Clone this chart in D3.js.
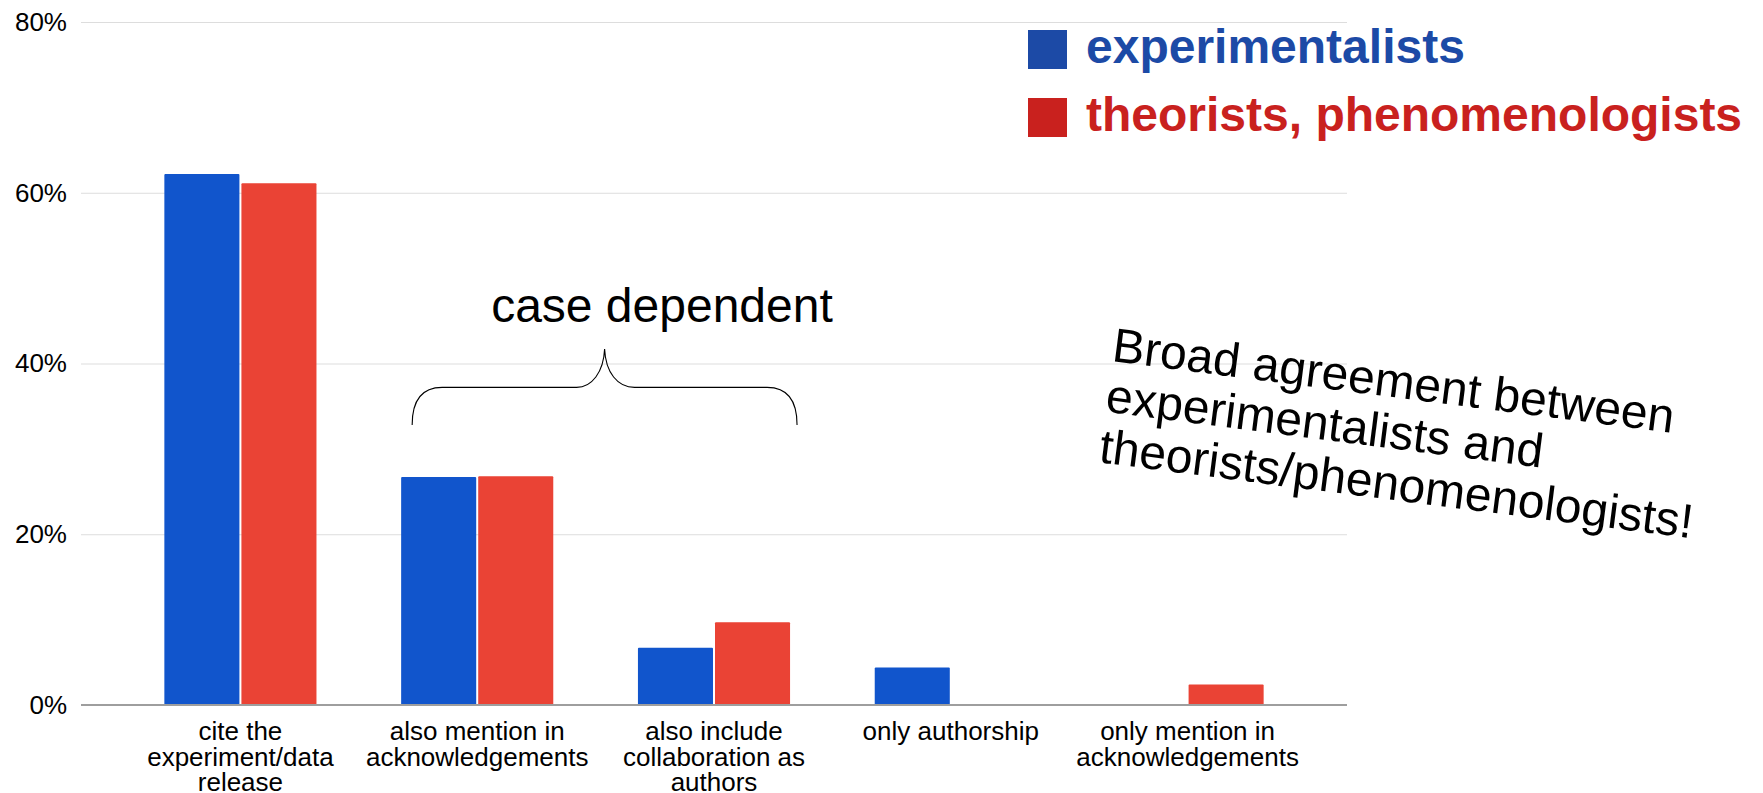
<!DOCTYPE html>
<html>
<head>
<meta charset="utf-8">
<script src="https://cdn.jsdelivr.net/npm/d3@7"></script>
<style>
  html, body { margin: 0; padding: 0; background: #fff; }
  svg { display: block; font-family: "Liberation Sans", Arial, sans-serif; }
</style>
</head>
<body>
<svg id="chart" width="1763" height="793"></svg>
<script>
// categories + series values (fractions)
const categories = ["cite", "ack", "collab", "authorship", "onlyAck"];
const catLabels = [
  ["cite the", "experiment/data", "release"],
  ["also mention in", "acknowledgements"],
  ["also include", "collaboration as", "authors"],
  ["only authorship"],
  ["only mention in", "acknowledgements"]
];
const seriesNames = ["experimentalists", "theorists, phenomenologists"];
const experimentalists = [0.622, 0.267, 0.067, 0.044, 0];
const theorists = [0.611, 0.268, 0.097, 0, 0.024];
const yTicks = [0, 0.2, 0.4, 0.6, 0.8];

const barColors = ["#1155cc", "#ea4335"];
const legendColors = ["#1c4aa6", "#c9211e"];

const svg = d3.select("#chart");
const plotLeft = 81, plotRight = 1347, plotTop = 22, plotBottom = 705;

const x = d3.scaleBand()
  .domain(categories)
  .range([plotLeft, plotRight])
  .paddingInner(0.3576)
  .paddingOuter(0.352);

const xs = d3.scaleBand()
  .domain(seriesNames)
  .range([0, x.bandwidth()])
  .paddingInner(0.026);

const y = d3.scaleLinear().domain([0, 0.8]).range([plotBottom, plotTop]);

// gridlines + y labels
const yAxis = svg.append("g")
  .attr("transform", `translate(${plotLeft},0)`)
  .call(d3.axisLeft(y)
    .tickValues(yTicks)
    .tickFormat(d3.format(".0%"))
    .tickSize(-(plotRight - plotLeft))
    .tickPadding(14));
yAxis.select(".domain").remove();
yAxis.selectAll(".tick line").attr("stroke", "#dddddd").attr("stroke-width", 1);
yAxis.selectAll(".tick text")
  .attr("fill", "#000")
  .style("font-size", "26px")
  .style("font-family", "'Liberation Sans', Arial, sans-serif");

// bars
const rows = categories.map((c, i) => ({
  cat: c,
  vals: [experimentalists[i], theorists[i]]
}));

const groups = svg.append("g").selectAll("g")
  .data(rows)
  .join("g")
  .attr("transform", d => `translate(${x(d.cat)},0)`);

groups.selectAll("rect")
  .data(d => d.vals.map((v, k) => ({ name: seriesNames[k], v, k })).filter(e => e.v > 0))
  .join("rect")
  .attr("x", d => xs(d.name))
  .attr("width", xs.bandwidth())
  .attr("y", d => y(d.v))
  .attr("height", d => y(0) - y(d.v))
  .attr("rx", 1)
  .attr("fill", d => barColors[d.k]);

// baseline
svg.append("line")
  .attr("x1", plotLeft).attr("x2", plotRight)
  .attr("y1", y(0)).attr("y2", y(0))
  .attr("stroke", "#9e9e9e")
  .attr("stroke-width", 2);

// x labels
const xAxis = svg.append("g")
  .attr("transform", `translate(0,${y(0)})`)
  .call(d3.axisBottom(x).tickSize(0).tickFormat(""));
xAxis.select(".domain").remove();
xAxis.selectAll(".tick text").remove();
xAxis.selectAll(".tick").each(function(d, i) {
  const t = d3.select(this).append("text")
    .attr("text-anchor", "middle")
    .attr("fill", "#000")
    .style("font-size", "26px")
    .style("font-family", "'Liberation Sans', Arial, sans-serif");
  catLabels[i].forEach((line, j) => {
    t.append("tspan").attr("x", 0).attr("y", 35 + j * 25.7).text(line);
  });
});

// legend
const legend = svg.append("g").attr("transform", "translate(1028,30)");
seriesNames.forEach((name, i) => {
  legend.append("rect")
    .attr("x", 0).attr("y", i * 68)
    .attr("width", 39).attr("height", 39)
    .attr("fill", legendColors[i]);
  legend.append("text")
    .attr("x", 58).attr("y", i * 68 + 33)
    .attr("fill", legendColors[i])
    .style("font-size", "48px")
    .style("font-weight", "bold")
    .text(name);
});

// "case dependent" brace over groups 2 and 3
const bx0 = x(categories[1]) + 11;
const bx1 = x(categories[2]) + x.bandwidth() + 7;
const bm = (bx0 + bx1) / 2;
const by0 = y(0.328), by1 = y(0.372), tip = y(0.417);
const brace = d3.path();
brace.moveTo(bx0, by0);
brace.bezierCurveTo(bx0, by0 - 25, bx0 + 10, by1, bx0 + 30, by1);
brace.lineTo(bm - 28, by1);
brace.bezierCurveTo(bm - 13, by1, bm - 1, by1 - 15, bm, tip);
brace.bezierCurveTo(bm + 1, by1 - 15, bm + 13, by1, bm + 30, by1);
brace.lineTo(bx1 - 30, by1);
brace.bezierCurveTo(bx1 - 10, by1, bx1, by0 - 25, bx1, by0);
svg.append("path")
  .attr("d", brace.toString())
  .attr("fill", "none")
  .attr("stroke", "#000")
  .attr("stroke-width", 1.1);

svg.append("text")
  .attr("x", bx0 + 79).attr("y", 322)
  .attr("fill", "#000")
  .style("font-size", "48px")
  .text("case dependent");

// rotated note
const note = svg.append("text")
  .attr("transform", "translate(1111,361) rotate(7.3)")
  .attr("fill", "#000")
  .style("font-size", "48px");
["Broad agreement between", "experimentalists and", "theorists/phenomenologists!"]
  .forEach((line, j) => {
    note.append("tspan").attr("x", 0).attr("y", j * 51).text(line);
  });
</script>
</body>
</html>
